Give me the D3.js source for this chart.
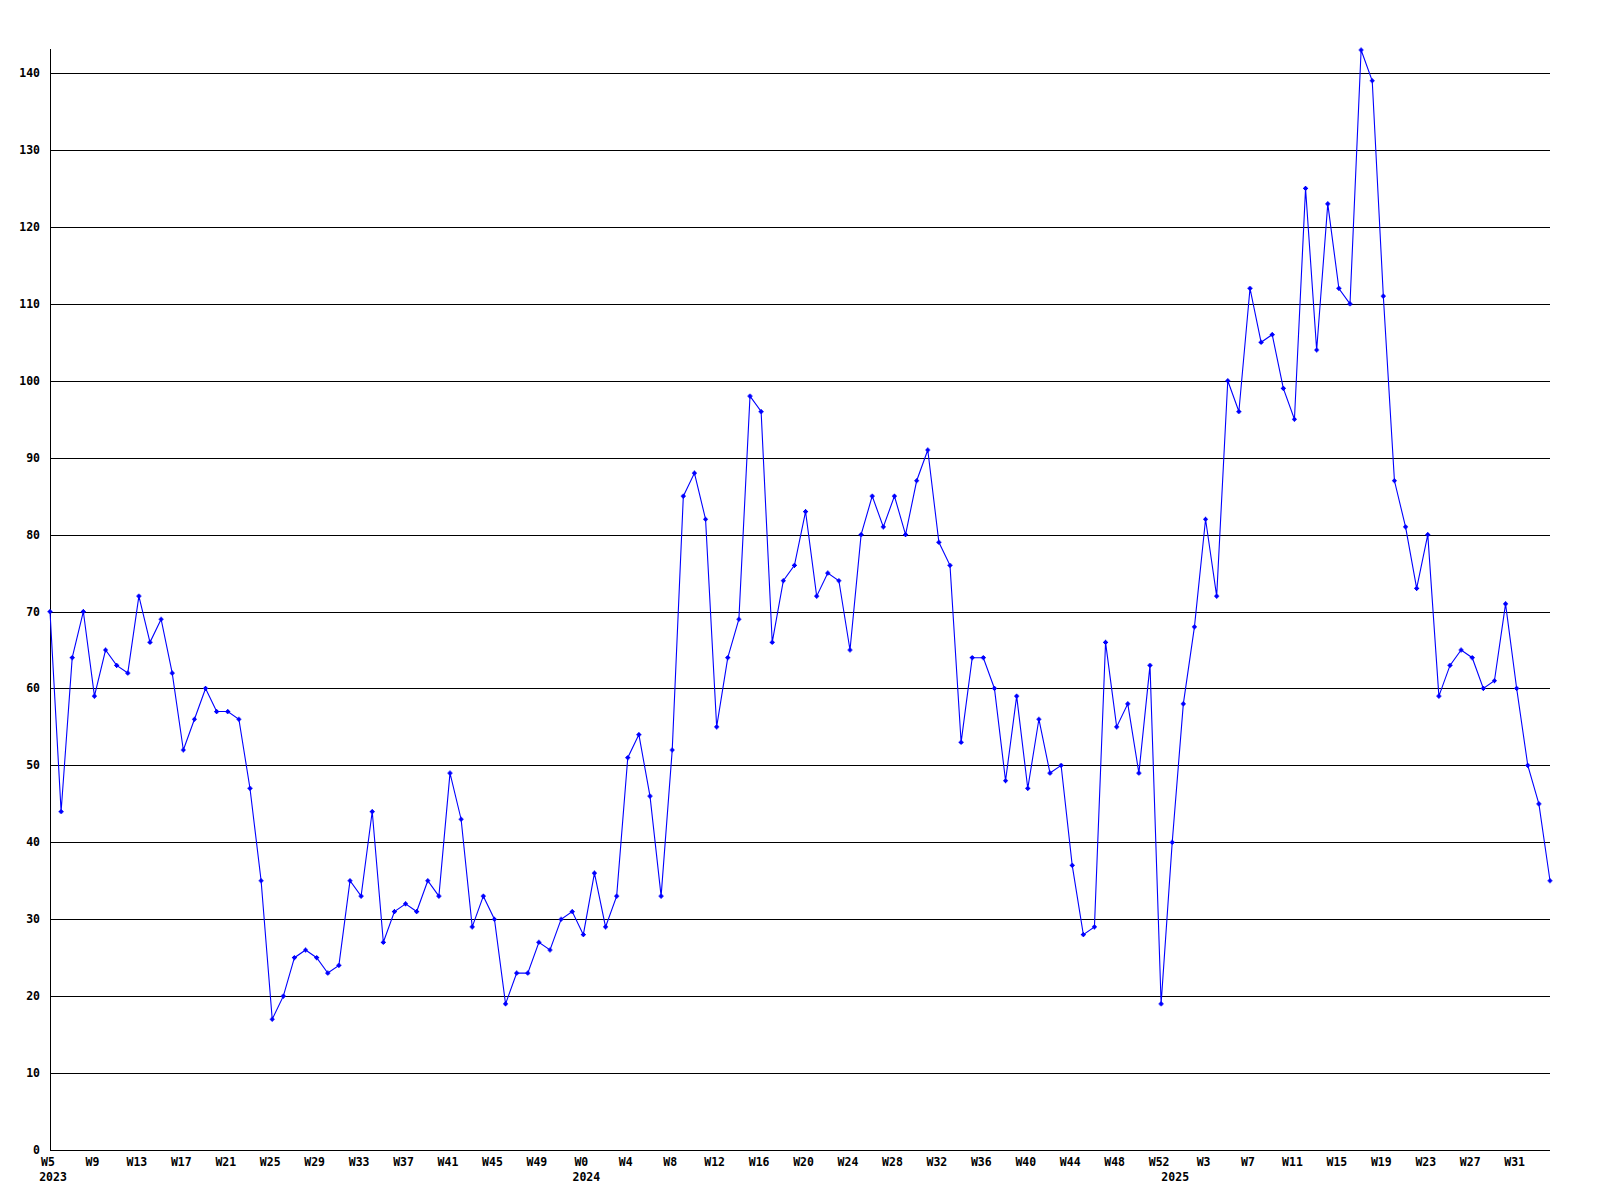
<!DOCTYPE html>
<html>
<head>
<meta charset="utf-8">
<script src="https://cdn.jsdelivr.net/npm/d3@7"></script>
<style>
  html, body { margin: 0; padding: 0; background: #ffffff; }
  svg { display: block; }
  text { font-family: "DejaVu Sans Mono", "Liberation Mono", monospace; font-weight: bold; font-size: 11.5px; fill: #000; }
</style>
</head>
<body>
<svg id="chart" width="1600" height="1200"></svg>
<script>
// ---- data ----
const years = [2023, 2024, 2025];
const firstWeek = [5, 0, 0];
const lastWeek = [52, 52, 34];

const values = [
  // 2023 W5..W52
  70, 44, 64, 70, 59, 65, 63, 62, 72, 66, 69, 62, 52, 56, 60, 57, 57, 56, 47, 35,
  17, 20, 25, 26, 25, 23, 24, 35, 33, 44, 27, 31, 32, 31, 35, 33, 49, 43, 29, 33,
  30, 19, 23, 23, 27, 26, 30, 31,
  // 2024 W0..W52
  28, 36, 29, 33, 51, 54, 46, 33, 52, 85, 88, 82, 55, 64, 69, 98, 96, 66, 74, 76,
  83, 72, 75, 74, 65, 80, 85, 81, 85, 80, 87, 91, 79, 76, 53, 64, 64, 60, 48, 59,
  47, 56, 49, 50, 37, 28, 29, 66, 55, 58, 49, 63, 19,
  // 2025 W0..W34
  40, 58, 68, 82, 72, 100, 96, 112, 105, 106, 99, 95, 125, 104, 123, 112, 110, 143, 139, 111,
  87, 81, 73, 80, 59, 63, 65, 64, 60, 61, 71, 60, 50, 45, 35
];

const yTicks = [0, 10, 20, 30, 40, 50, 60, 70, 80, 90, 100, 110, 120, 130, 140];
const tickEvery = 4;

// categories built from the year/week ranges
const categories = [];
const catYear = [];
const catWeek = [];
years.forEach((yr, k) => {
  for (let w = firstWeek[k]; w <= lastWeek[k]; w++) {
    categories.push(yr + "-W" + w);
    catYear.push(yr);
    catWeek.push(w);
  }
});

(function draw() {
  const svg = d3.select("#chart");
  const mLeft = 50, mRight = 1550, mTop = 50, mBottom = 1150;

  const x = d3.scalePoint().domain(categories).range([mLeft, mRight]);
  const y = d3.scaleLinear().domain([0, d3.max(values)]).range([mBottom, mTop]);

  // gridlines
  svg.append("g")
    .selectAll("line")
    .data(yTicks.filter(d => d > 0))
    .join("line")
    .attr("x1", mLeft).attr("x2", mRight)
    .attr("y1", d => Math.round(y(d)) + 0.5)
    .attr("y2", d => Math.round(y(d)) + 0.5)
    .attr("stroke", "#000").attr("stroke-width", 1)
    .attr("shape-rendering", "crispEdges");

  // axis lines
  svg.append("line")
    .attr("x1", mLeft + 0.5).attr("x2", mLeft + 0.5)
    .attr("y1", mTop - 1).attr("y2", mBottom + 0.5)
    .attr("stroke", "#000").attr("shape-rendering", "crispEdges");
  svg.append("line")
    .attr("x1", mLeft).attr("x2", mRight)
    .attr("y1", mBottom + 0.5).attr("y2", mBottom + 0.5)
    .attr("stroke", "#000").attr("shape-rendering", "crispEdges");

  // y labels
  svg.append("g")
    .selectAll("text")
    .data(yTicks)
    .join("text")
    .attr("x", 40)
    .attr("y", d => Math.round(y(d)))
    .attr("dy", "0.35em")
    .attr("text-anchor", "end")
    .text(d => d);

  // x labels (every 4th week)
  const tickIdx = d3.range(0, categories.length, tickEvery);
  svg.append("g")
    .selectAll("text")
    .data(tickIdx)
    .join("text")
    .attr("x", i => x(categories[i]) - 2)
    .attr("y", 1162)
    .attr("dy", "0.35em")
    .attr("text-anchor", "middle")
    .text(i => "W" + catWeek[i]);

  // year labels at first week of each year
  const yearIdx = years.map(yr => catYear.indexOf(yr));
  svg.append("g")
    .selectAll("text")
    .data(yearIdx)
    .join("text")
    .attr("x", i => x(categories[i]) + 3)
    .attr("y", 1177)
    .attr("dy", "0.35em")
    .attr("text-anchor", "middle")
    .text(i => catYear[i]);

  // line
  const line = d3.line()
    .x((d, i) => x(categories[i]))
    .y(d => y(d));

  svg.append("path")
    .datum(values)
    .attr("d", line)
    .attr("fill", "none")
    .attr("stroke", "#0000ff")
    .attr("stroke-width", 1.1);

  // markers
  const marker = "M-2.5,0H2.5M0,-2.5V2.5M-1,-1H1V1H-1Z";
  svg.append("g")
    .selectAll("path")
    .data(values)
    .join("path")
    .attr("transform", (d, i) => `translate(${x(categories[i])},${y(d)})`)
    .attr("d", marker)
    .attr("fill", "#0000ff")
    .attr("stroke", "#0000ff")
    .attr("stroke-width", 1.2);
})();
</script>
</body>
</html>
